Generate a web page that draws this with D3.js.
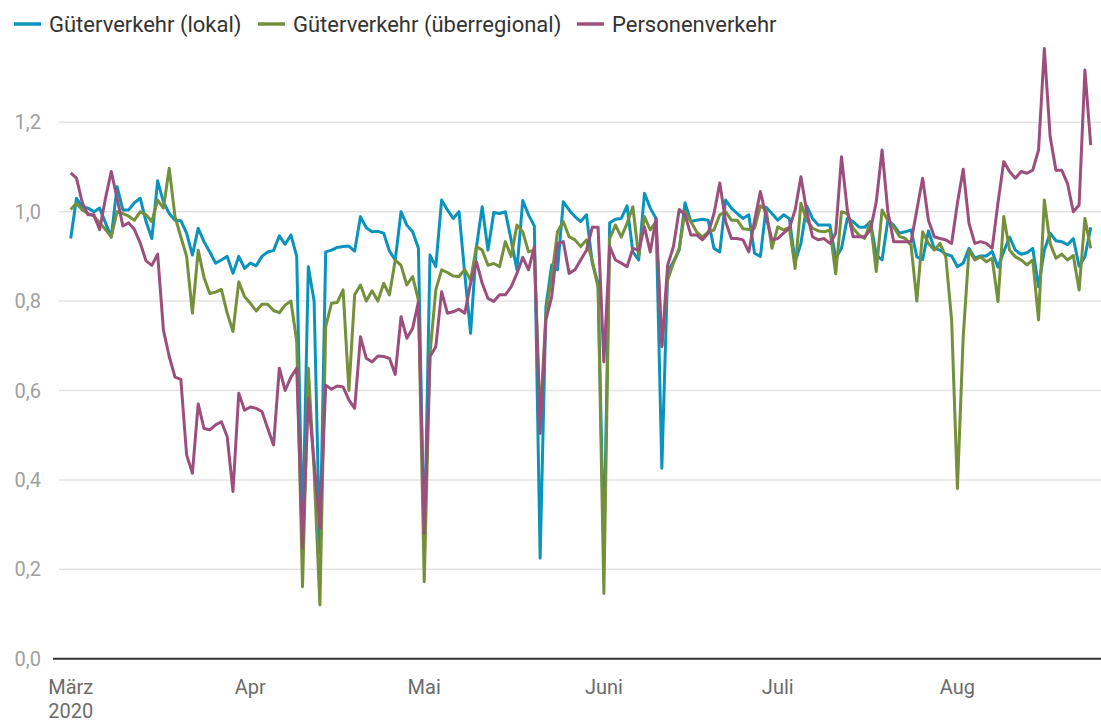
<!DOCTYPE html>
<html>
<head>
<meta charset="utf-8">
<script src="https://cdn.jsdelivr.net/npm/d3@7"></script>
<style>
body { margin: 0; background: #fff; }
svg { font-family: Roboto, "Noto Sans", sans-serif; }
</style>
</head>
<body>
<script>
var width = 1101,
    height = 722;

// daily values, 1 Mar 2020 .. 24 Aug 2020
var startDate = new Date(2020, 2, 1);

var lokal = [
  0.94, 1.03, 1.011, 1.008, 1.0, 1.008, 0.975, 0.943, 1.056, 1.004,
  1.004, 1.02, 1.03, 0.978, 0.94, 1.069, 1.022, 0.996, 0.981, 0.98,
  0.952, 0.903, 0.963, 0.933, 0.91, 0.885, 0.892, 0.90, 0.862, 0.90,
  0.873, 0.885, 0.879, 0.90, 0.91, 0.913, 0.946, 0.927, 0.948, 0.90,
  0.27, 0.877, 0.80, 0.236, 0.91, 0.914, 0.92, 0.922, 0.923, 0.912,
  0.989, 0.964, 0.955, 0.956, 0.952, 0.912, 0.892, 1.0, 0.97, 0.955,
  0.918, 0.243, 0.903, 0.877, 1.026, 1.004, 0.985, 1.0, 0.86, 0.728,
  0.92, 1.011, 0.914, 0.998, 0.996, 1.0, 0.937, 0.87, 1.025, 0.993,
  0.968, 0.225, 0.788, 0.881, 0.87, 1.022, 1.004, 0.989, 0.978, 0.993,
  0.885, 0.84, 0.236, 0.975, 0.983, 0.985, 1.013, 0.91, 0.892, 1.041,
  1.008, 0.985, 0.426, 0.866, 0.888, 0.914, 1.02, 0.978, 0.981, 0.983,
  0.981, 0.918, 0.91, 1.026, 1.008, 0.996, 0.985, 0.993, 0.907, 0.90,
  1.01, 0.996, 0.981, 0.993, 0.985, 0.888, 0.929, 1.013, 0.985, 0.97,
  0.97, 0.97, 0.896, 0.918, 0.985, 0.978, 0.966, 0.965, 0.978, 0.903,
  0.892, 0.981, 0.97, 0.952, 0.955, 0.959, 0.899, 0.893, 0.957, 0.918,
  0.914, 0.905, 0.901, 0.877, 0.885, 0.918, 0.896, 0.901, 0.901, 0.911,
  0.876, 0.911, 0.943, 0.914, 0.905, 0.908, 0.918, 0.832, 0.914, 0.952,
  0.935, 0.933, 0.926, 0.94, 0.878, 0.899, 0.965
];

var ueberregional = [
  1.005, 1.019, 1.004, 0.996, 0.99, 0.975, 0.96, 0.944, 1.0, 0.996,
  0.99, 0.981, 1.0, 0.993, 0.978, 1.026, 1.008, 1.097, 0.989, 0.944,
  0.90, 0.773, 0.914, 0.853, 0.817, 0.82, 0.826, 0.773, 0.732, 0.843,
  0.81, 0.795, 0.778, 0.793, 0.793, 0.779, 0.774, 0.791, 0.80, 0.71,
  0.161, 0.65, 0.42, 0.12, 0.743, 0.795, 0.797, 0.825, 0.60, 0.814,
  0.836, 0.80, 0.823, 0.80, 0.84, 0.814, 0.892, 0.88, 0.836, 0.855,
  0.802, 0.172, 0.683, 0.825, 0.87, 0.864, 0.856, 0.855, 0.871, 0.847,
  0.922, 0.914, 0.88, 0.884, 0.877, 0.933, 0.90, 0.97, 0.955, 0.91,
  0.914, 0.53, 0.773, 0.855, 0.955, 0.978, 0.944, 0.937, 0.922, 0.937,
  0.89, 0.83, 0.146, 0.94, 0.97, 0.943, 0.974, 1.011, 0.90, 0.989,
  0.959, 0.978, 0.70, 0.847, 0.885, 0.918, 1.0, 0.978, 0.955, 0.943,
  0.955, 0.959, 0.993, 1.0, 0.981, 0.981, 0.962, 0.96, 0.963, 1.013,
  1.004, 0.918, 0.966, 0.959, 0.965, 0.873, 1.019, 0.981, 0.963, 0.957,
  0.955, 0.959, 0.861, 1.0, 0.996, 0.963, 0.948, 0.94, 0.978, 0.866,
  1.004, 0.981, 0.966, 0.945, 0.94, 0.925, 0.80, 0.955, 0.929, 0.914,
  0.929, 0.899, 0.758, 0.381, 0.72, 0.914, 0.892, 0.899, 0.888, 0.896,
  0.799, 0.989, 0.914, 0.899, 0.892, 0.881, 0.892, 0.758, 1.026, 0.929,
  0.896, 0.905, 0.892, 0.902, 0.825, 0.985, 0.918
];

var personen = [
  1.087, 1.075, 1.02, 0.993, 0.993, 0.96, 1.03, 1.09, 1.03, 0.968,
  0.975, 0.96, 0.93, 0.89, 0.88, 0.905, 0.735, 0.676, 0.63, 0.625,
  0.456, 0.415, 0.57, 0.515, 0.512, 0.523, 0.53, 0.497, 0.374, 0.594,
  0.556, 0.563, 0.56, 0.553, 0.515, 0.478, 0.65, 0.60, 0.63, 0.65,
  0.247, 0.583, 0.44, 0.292, 0.612, 0.603, 0.61, 0.608, 0.579, 0.56,
  0.72, 0.672, 0.664, 0.677, 0.676, 0.672, 0.636, 0.765, 0.717, 0.739,
  0.799, 0.28, 0.676, 0.698, 0.821, 0.773, 0.776, 0.782, 0.773, 0.84,
  0.888, 0.84, 0.806, 0.799, 0.814, 0.814, 0.832, 0.862, 0.898, 0.87,
  0.922, 0.504, 0.758, 0.81, 0.929, 0.933, 0.862, 0.87, 0.892, 0.914,
  0.965, 0.965, 0.664, 0.922, 0.892, 0.885, 0.877, 0.918, 0.914, 0.966,
  0.91, 0.985, 0.698, 0.88, 0.922, 1.005, 0.993, 0.948, 0.948, 0.937,
  0.952, 0.996, 1.064, 0.978, 0.94, 0.94, 0.937, 0.91, 0.98, 1.045,
  0.989, 0.937, 0.94, 0.952, 0.963, 1.004, 1.078, 1.0, 0.944, 0.937,
  0.94, 0.929, 0.952, 1.123, 1.004, 0.944, 0.944, 0.944, 0.959, 1.022,
  1.138, 1.0, 0.933, 0.933, 0.933, 0.933, 1.004, 1.075, 0.981, 0.944,
  0.94, 0.937, 0.929, 1.019, 1.095, 0.974, 0.929, 0.933, 0.929, 0.918,
  1.02, 1.112, 1.09, 1.075, 1.09, 1.086, 1.093, 1.138, 1.365, 1.168,
  1.093, 1.093, 1.063, 1.0, 1.015, 1.317, 1.149
];

var seriesNames = ["Güterverkehr (lokal)", "Güterverkehr (überregional)", "Personenverkehr"];
var seriesColors = ["#0a93bd", "#74903a", "#9c4f7d"];
var yTicks = [0, 0.2, 0.4, 0.6, 0.8, 1.0, 1.2];
var monthNames = ["März", "Apr", "Mai", "Juni", "Juli", "Aug"];

var series = [lokal, ueberregional, personen].map(function(values, k) {
  return {
    name: seriesNames[k],
    color: seriesColors[k],
    values: values.map(function(v, i) {
      return { date: d3.timeDay.offset(startDate, i), value: v };
    })
  };
});

var x = d3.scaleTime()
    .domain([startDate, d3.timeDay.offset(startDate, lokal.length - 1)])
    .range([70.7, 1090.7]);

var y = d3.scaleLinear()
    .domain([0, 1.2])
    .range([658.7, 122.3]);

var svg = d3.select("body").append("svg")
    .attr("width", width)
    .attr("height", height);

// gridlines + y labels
var grid = svg.append("g").attr("class", "grid");

grid.selectAll("line")
    .data(yTicks.filter(function(d) { return d > 0; }))
  .enter().append("line")
    .attr("x1", 59)
    .attr("x2", width)
    .attr("y1", function(d) { return y(d); })
    .attr("y2", function(d) { return y(d); })
    .style("stroke", "#e3e3e3")
    .style("stroke-width", 1.5);

grid.selectAll("text")
    .data(yTicks)
  .enter().append("text")
    .attr("x", 41)
    .attr("y", function(d) { return y(d); })
    .attr("dy", ".35em")
    .attr("text-anchor", "end")
    .style("font-size", "20px")
    .style("fill", "#a0a0a0")
    .text(function(d) { return d3.format(".1f")(d).replace(".", ","); });

// x axis labels (months)
var months = d3.timeMonth.range(startDate, x.domain()[1]);

svg.append("g").selectAll("text")
    .data(months)
  .enter().append("text")
    .attr("x", function(d) { return x(d); })
    .attr("y", 694)
    .attr("text-anchor", "middle")
    .style("font-size", "20px")
    .style("fill", "#6b6b6b")
    .text(function(d, i) { return monthNames[i]; });

svg.append("text")
    .attr("x", x(startDate))
    .attr("y", 718)
    .attr("text-anchor", "middle")
    .style("font-size", "20px")
    .style("fill", "#6b6b6b")
    .text("2020");

// lines
var line = d3.line()
    .x(function(d) { return x(d.date); })
    .y(function(d) { return y(d.value); });

svg.append("g").selectAll("path")
    .data(series)
  .enter().append("path")
    .attr("d", function(d) { return line(d.values); })
    .style("fill", "none")
    .style("stroke", function(d) { return d.color; })
    .style("stroke-width", 3)
    .style("stroke-linejoin", "round");

// baseline
svg.append("line")
    .attr("x1", 53)
    .attr("x2", width)
    .attr("y1", y(0))
    .attr("y2", y(0))
    .style("stroke", "#333")
    .style("stroke-width", 2);

// legend
var legendX = [14, 258, 577];

var legend = svg.append("g").selectAll("g")
    .data(series)
  .enter().append("g")
    .attr("transform", function(d, i) { return "translate(" + legendX[i] + ",24)"; });

legend.append("line")
    .attr("x1", 0)
    .attr("x2", 27)
    .style("stroke", function(d) { return d.color; })
    .style("stroke-width", 3.5);

legend.append("text")
    .attr("x", 35)
    .attr("dy", ".35em")
    .style("font-size", "22px")
    .style("fill", "#333")
    .text(function(d) { return d.name; });
</script>
</body>
</html>
